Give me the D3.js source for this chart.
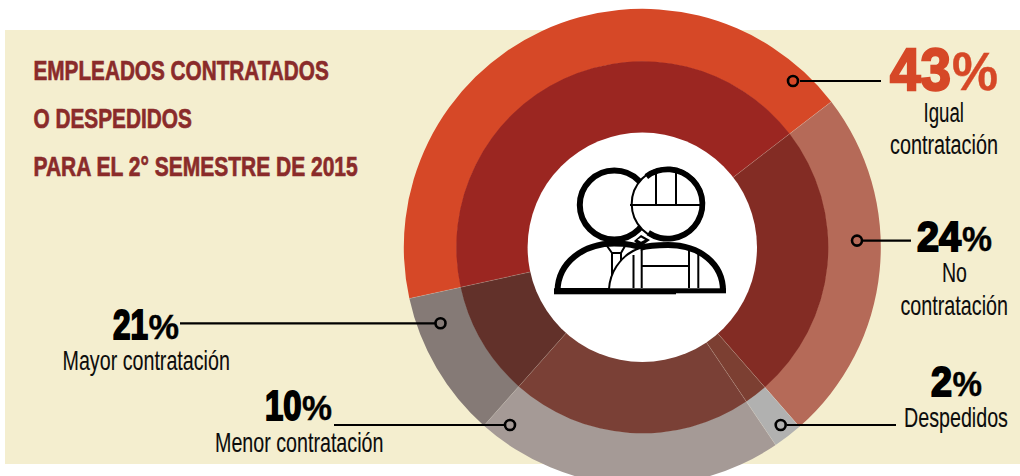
<!DOCTYPE html>
<html lang="es"><head><meta charset="utf-8">
<style>html,body{margin:0;padding:0;background:#fff;overflow:hidden}svg{display:block}</style>
<script src="https://cdn.jsdelivr.net/npm/d3@7"></script>
</head><body>
<svg id="c" width="1020" height="476"></svg>
<script>
// Data. Arc sizes are what the reference draws, in clockwise order.
const sliceNames = ["Igual contratación","No contratación","Despedidos","Franja ancha","Franja estrecha"];
const sliceValues = [43,24,2,21,10];
const outerColors = ["#d64827","#b56a58","#b1b1b0","#a59a96","#857a76"];
const innerColors = ["#9b2621","#832c24","#7c3f32","#7a4036","#62312a"];
const titleLines = ["EMPLEADOS CONTRATADOS","O DESPEDIDOS","PARA EL 2° SEMESTRE DE 2015"];
// The printed labels (the reference's callouts for 10% and 21% point at the opposite-sized slices).
const calloutPercents = ["43","24","2","21","10"];

const svg = d3.select("#c");
const W = 1020, H = 476, cx = 642.3, cy = 247.3;
const rOuter = 238.5, rMid = 186, rHole = 114.7;
const deg = Math.PI/180, startDeg = -102.4;
const narrow = "'Liberation Sans Narrow','Liberation Sans',sans-serif";
const heavy = "'Liberation Sans',Arial,sans-serif";

svg.append("rect").attr("x",5).attr("y",30).attr("width",W-5).attr("height",434).attr("fill","#f4eecf");

const pie = d3.pie().sort(null).startAngle(startDeg*deg).endAngle((startDeg+360)*deg);
const arcs = pie(sliceValues);
const ring = svg.append("g").attr("transform",`translate(${cx},${cy})`);
ring.selectAll("path.o").data(arcs).join("path").attr("class","o")
  .attr("d",d3.arc().innerRadius(rMid-0.5).outerRadius(rOuter)).attr("fill",(d,i)=>outerColors[i]);
ring.selectAll("path.i").data(arcs).join("path").attr("class","i")
  .attr("d",d3.arc().innerRadius(rHole-1).outerRadius(rMid)).attr("fill",(d,i)=>innerColors[i]);
const radial = d3.lineRadial();
ring.selectAll("path.h").data(arcs).join("path").attr("class","h")
  .attr("d",d=>radial([[d.startAngle,rHole],[d.startAngle,rOuter]]))
  .attr("fill","none").attr("stroke","#fff").attr("stroke-opacity",.28).attr("stroke-width",.6);
ring.append("circle").attr("r",rHole).attr("fill","#fff");

// Title
const titleBase = [80,128,176], titleEnd = [329,192,358];
const addText = (str,x,x2,y,size,font,weight,fill,extra) => {
  const t = svg.append("text").text(str)
    .attr("font-family",font).attr("font-size",size).attr("font-weight",weight).attr("fill",fill);
  if (extra) t.attr("stroke",fill).attr("stroke-width",extra);
  const k = (x2-x)/t.node().getComputedTextLength();
  t.attr("transform",`translate(${x},${y}) scale(${k},1)`);
  return t;
};
titleLines.forEach((s,i)=>addText(s,33.5,titleEnd[i],titleBase[i],28.5,narrow,700,"#8a2b2a",.7));

// Callouts: number and percent sign, leader line, ring marker, caption
const callouts = [
 {n:0,dx:[890,951],px:[952,998],base:90,ds:60,ps:54,fill:"#d64827",line:[800,881],ly:81,dot:793,
  cap:[["Igual",923.5,964,122],["contratación",890,998,154]]},
 {n:1,dx:[917,961],px:[962,992],base:250.7,ds:42,ps:35,fill:"#000",line:[863,911],ly:240.6,dot:857,
  cap:[["No",942,967,282],["contratación",900.5,1008,315]]},
 {n:2,dx:[931,952],px:[952.5,982],base:395.7,ds:42,ps:35,fill:"#000",line:[787,896],ly:425,dot:780.7,
  cap:[["Despedidos",904,1008,427]]},
 {n:3,dx:[113,148],px:[148.5,179],base:339,ds:42,ps:35,fill:"#000",line:[180,435],ly:323.3,dot:440.5,
  cap:[["Mayor contratación",62.5,230,370]]},
 {n:4,dx:[265,301.5],px:[302,332],base:420,ds:42,ps:35,fill:"#000",line:[334,504],ly:425,dot:510,
  cap:[["Menor contratación",215,383.5,452]]}
];
callouts.forEach(c=>{
  addText(calloutPercents[c.n],c.dx[0],c.dx[1],c.base,c.ds,heavy,700,c.fill,c.ds>50?2.4:2);
  addText("%",c.px[0],c.px[1],c.base,c.ps,narrow,700,c.fill,.4);
  svg.append("line").attr("x1",c.line[0]).attr("x2",c.line[1]).attr("y1",c.ly).attr("y2",c.ly)
    .attr("stroke","#000").attr("stroke-width",2.2);
  svg.append("circle").attr("cx",c.dot).attr("cy",c.ly).attr("r",5).attr("fill","none")
    .attr("stroke","#000").attr("stroke-width",2.6);
  c.cap.forEach(k=>addText(k[0],k[1],k[2],k[3],28,narrow,400,"#0c0c0c",.1));
});

// Central icon
const ic = svg.append("g").attr("fill","none").attr("stroke","#000").attr("stroke-linejoin","miter");
const P = (d,w,fill)=>ic.append("path").attr("d",d).attr("stroke-width",w).attr("fill",fill||"none");
P("M557.5,291 C558,262 584,243.5 614,243.5 C626,243.5 636,245 645,249 L645,291 Z",6,"#fff");
P("M607,246 L612,253 L612,288 M625,246 L621,253 L621,288 M612,253 L621,253",2);
ic.append("circle").attr("cx",614.3).attr("cy",205).attr("r",34.5).attr("stroke-width",6).attr("fill","#fff");
ic.append("path").attr("d","M634,241 L641,235 L650,240 L640,247 Z").attr("fill","#000").attr("stroke","none");
P("M609,289 C610,272 620,258 633,251 C642,246 654,245 668,245 C700,245 723,264 723,291 L609,291 Z",2,"#fff");
P("M640,248 C650,245 658,245 668,245 C700,245 723,264 723,291",6);
P("M633.5,255 L633.5,288 M641.7,250 L641.7,288 M689,247 L689,288 M698.3,250 L698.3,288 M641.7,266 L689,266",2);
ic.append("path").attr("d","M637.5,239.7 L641,237.5 L645,239.7 L641,241.7 Z").attr("fill","#fff").attr("stroke","none");
ic.append("circle").attr("cx",667.7).attr("cy",204).attr("r",36).attr("stroke-width",2).attr("fill","#fff");
P(d3.arc()({innerRadius:31.8,outerRadius:37.6,startAngle:-38*deg,endAngle:214*deg}),0,"#000")
  .attr("transform","translate(667.7,204)").attr("stroke","none");
P("M630,205 L701,205 M656,173 L656,205 M676,173 L676,205",2);
ic.append("rect").attr("x",554).attr("y",288.3).attr("width",122).attr("height",6).attr("fill","#000").attr("stroke","none");
ic.append("rect").attr("x",676).attr("y",288.3).attr("width",50).attr("height",5).attr("fill","#000").attr("stroke","none");
</script>
</body></html>
